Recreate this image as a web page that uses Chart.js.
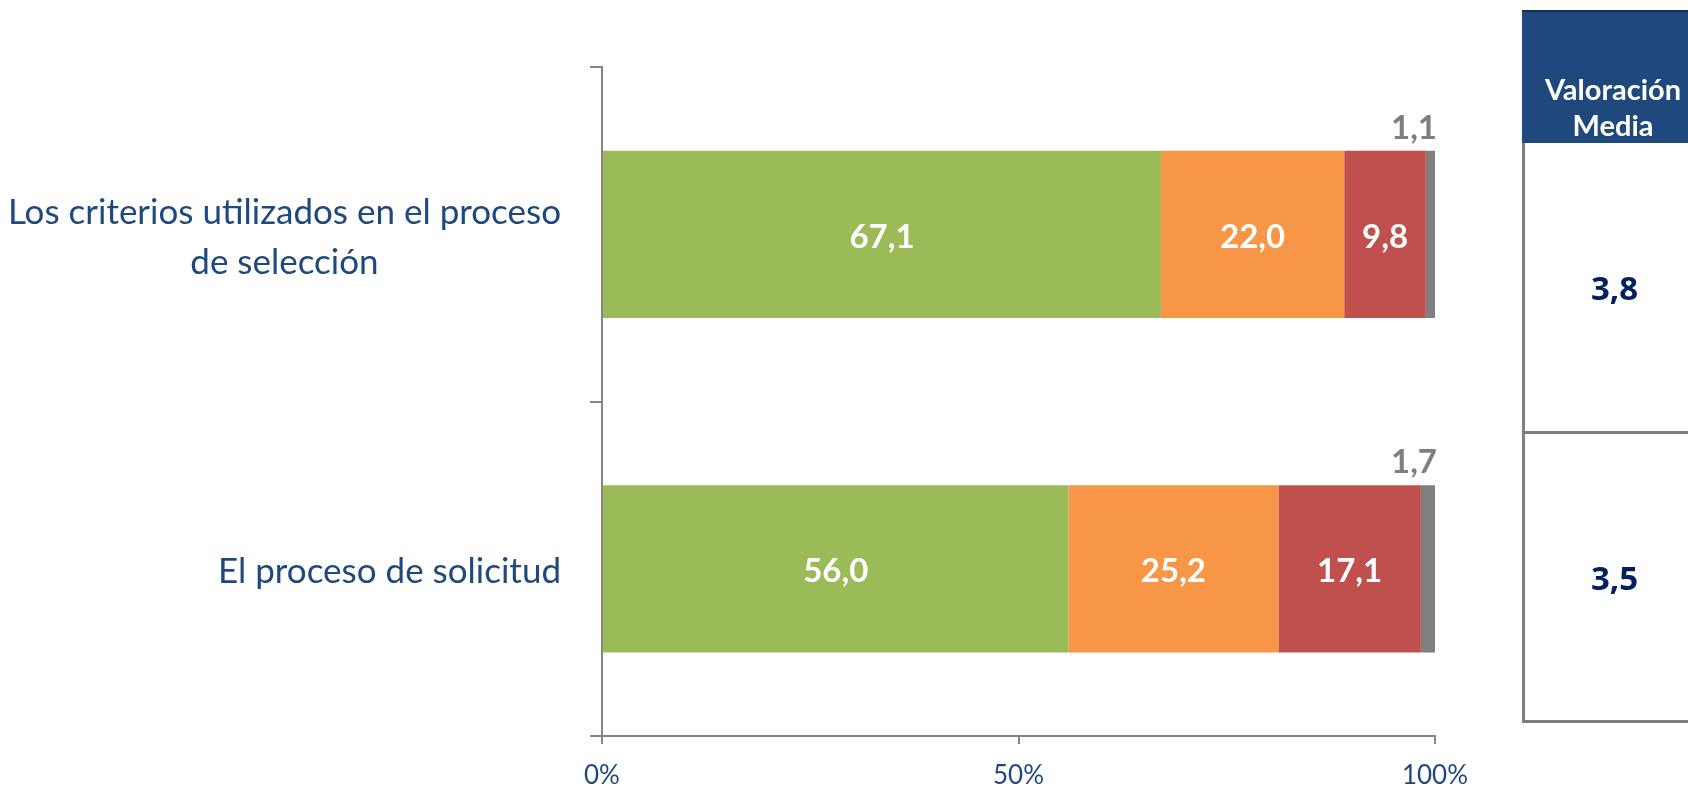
<!DOCTYPE html>
<html>
<head>
<meta charset="utf-8">
<script src="https://cdn.jsdelivr.net/npm/chart.js@4/dist/chart.umd.min.js"></script>
<style>
  html, body { margin: 0; padding: 0; background: #fff; overflow: hidden; }
  #wrap { position: relative; width: 1688px; height: 786px; }
  #chart { position: absolute; left: 0; top: 0; }
  #tabla { position: absolute; left: 1522px; top: 10px; width: 182px; font-family: Lato, "Open Sans", sans-serif; }
  #tabla .head { height: 133px; background: #1F497D; border-top: 2px solid #10305e; color: #fff; font-weight: bold;
    font-size: 29px; line-height: 36px; text-align: center; display: flex; align-items: flex-end; justify-content: center; box-sizing: border-box; }
  #tabla .head span { display: block; padding-bottom: 0px; }
  #tabla .cell { border-left: 3px solid #7f7f7f; border-bottom: 3px solid #7f7f7f; box-sizing: border-box;
    display: flex; align-items: center; justify-content: center; color: #002060; font-weight: bold;
    font-family: "Open Sans", sans-serif; font-size: 33px; }
</style>
</head>
<body>
<div id="wrap">
  <canvas id="chart" width="1688" height="786"></canvas>
  <div id="tabla"></div>
</div>
<script>
// categorías y series (porcentajes)
const categorias = [
  ['Los criterios utilizados en el proceso', 'de selección'],
  ['El proceso de solicitud']
];
const serieNombres = ['Satisfecho', 'Indiferente', 'Insatisfecho', 'NS/NC'];
const serieColores = ['#9BBB59', '#F79646', '#C0504D', '#7F7F7F'];
const satisfecho = [67.1, 56.0];
const indiferente = [22.0, 25.2];
const insatisfecho = [9.8, 17.1];
const nsnc = [1.1, 1.7];
const xTicks = [0, 50, 100];
const tablaTitulo = ['Valoración', 'Media'];
const valoracionMedia = [3.8, 3.5];
const rowHeights = [291, 289];

function fmt(v) {
  return v.toFixed(1).replace('.', ',');
}

// etiquetas de valor sobre las barras
const valueLabels = {
  id: 'valueLabels',
  afterDatasetsDraw(chart) {
    const ctx = chart.ctx;
    ctx.save();
    ctx.font = 'bold 33px Lato, "Open Sans", sans-serif';
    chart.data.datasets.forEach((ds, di) => {
      const meta = chart.getDatasetMeta(di);
      meta.data.forEach((bar, i) => {
        const v = ds.data[i];
        if (di < 3) {
          ctx.fillStyle = '#ffffff';
          ctx.textAlign = 'center';
          ctx.textBaseline = 'middle';
          ctx.fillText(fmt(v), (bar.x + bar.base) / 2, bar.y + 3);
        } else {
          ctx.fillStyle = '#7F7F7F';
          ctx.textAlign = 'right';
          ctx.textBaseline = 'alphabetic';
          ctx.fillText(fmt(v), bar.x + 2, bar.y - bar.height / 2 - 12);
        }
      });
    });
    ctx.restore();
  }
};

// etiquetas de categoría (centradas por bloque, como en el original)
const catLabels = {
  id: 'catLabels',
  afterDraw(chart) {
    const ctx = chart.ctx;
    const y = chart.scales.y;
    ctx.save();
    ctx.font = '35px Lato, "Open Sans", sans-serif';
    ctx.fillStyle = '#1F497D';
    ctx.textAlign = 'center';
    ctx.textBaseline = 'middle';
    const lh = 50;
    categorias.forEach((lines, i) => {
      const cy = y.getPixelForTick(i);
      const w = Math.max(...lines.map(l => ctx.measureText(l).width));
      const cx = y.right - 41 - w / 2;
      lines.forEach((l, k) => {
        ctx.fillText(l, cx, cy + 3 + (k - (lines.length - 1) / 2) * lh);
      });
    });
    ctx.restore();
  }
};

const ctx = document.getElementById('chart').getContext('2d');
new Chart(ctx, {
  type: 'bar',
  data: {
    labels: categorias,
    datasets: [satisfecho, indiferente, insatisfecho, nsnc].map((d, i) => ({
      label: serieNombres[i],
      data: d,
      backgroundColor: serieColores[i],
      borderWidth: 0,
      barPercentage: 1,
      categoryPercentage: 0.5
    }))
  },
  options: {
    indexAxis: 'y',
    responsive: false,
    animation: false,
    layout: { padding: { top: 67, right: 253, left: 0, bottom: 0 } },
    plugins: { legend: { display: false }, tooltip: { enabled: false } },
    scales: {
      x: {
        stacked: true,
        min: 0, max: 100,
        afterBuildTicks: s => { s.ticks = xTicks.map(v => ({ value: v })); },
        afterFit: s => { s.height = 50; },
        grid: { drawOnChartArea: false, drawTicks: true, tickLength: 8, color: '#868686', lineWidth: 2 },
        border: { color: '#868686', width: 2 },
        ticks: {
          color: '#1F497D',
          font: { family: 'Lato, "Open Sans", sans-serif', size: 26 },
          padding: 16,
          maxRotation: 0,
          callback: v => v + '%'
        }
      },
      y: {
        stacked: true,
        afterFit: s => { s.width = 602; },
        grid: { drawOnChartArea: false, drawTicks: true, tickLength: 12, color: '#868686', lineWidth: 2, offset: true },
        border: { color: '#868686', width: 2 },
        ticks: { display: false }
      }
    }
  },
  plugins: [valueLabels, catLabels]
});

// tabla de valoración media
const tabla = document.getElementById('tabla');
const head = document.createElement('div');
head.className = 'head';
head.innerHTML = '<span>' + tablaTitulo.join('<br>') + '</span>';
tabla.appendChild(head);
valoracionMedia.forEach((v, i) => {
  const c = document.createElement('div');
  c.className = 'cell';
  c.style.height = rowHeights[i] + 'px';
  c.textContent = fmt(v);
  tabla.appendChild(c);
});
</script>
</body>
</html>
